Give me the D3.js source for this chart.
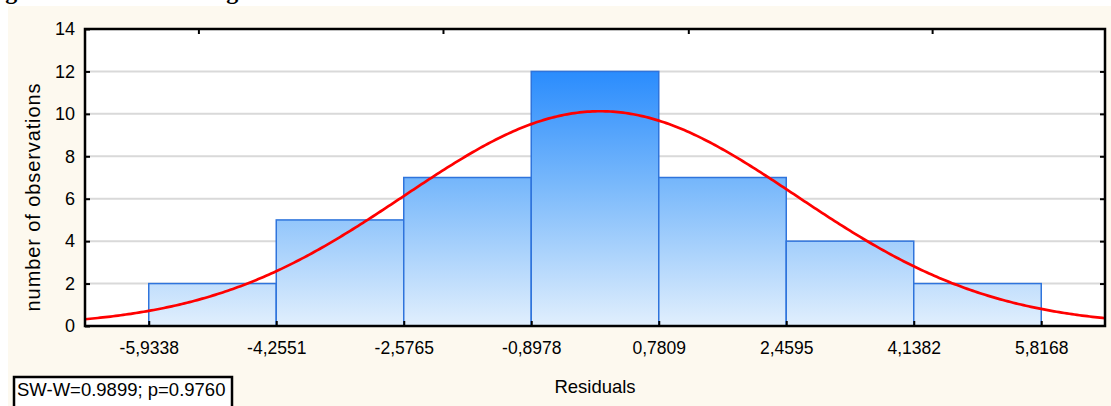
<!DOCTYPE html>
<html>
<head>
<meta charset="utf-8">
<script src="https://cdn.jsdelivr.net/npm/d3@7/dist/d3.min.js"></script>
<style>
  html, body { margin: 0; padding: 0; background: #ffffff; }
  svg { display: block; }
</style>
</head>
<body>
<svg id="chart" width="1111" height="406"></svg>
<script>
// Histogram of residuals with a fitted normal curve
const binEdges = [-5.9338, -4.2551, -2.5765, -0.8978, 0.7809, 2.4595, 4.1382, 5.8168];
const edgeLabels = ["-5,9338", "-4,2551", "-2,5765", "-0,8978", "0,7809", "2,4595", "4,1382", "5,8168"];
const counts = [2, 5, 7, 12, 7, 4, 2];
const yTicks = [0, 2, 4, 6, 8, 10, 12, 14];
const topTicks = [-5.28, -2.06, 1.17, 4.38];
const fitMean = 0.01;
const fitSd = 2.58;
const statsText = "SW-W=0.9899; p=0.9760";
const xTitle = "Residuals";
const yTitle = "number of observations";
const titleText = "Figure 7. Residual histogram";

const W = 1111, H = 406;
const M = { left: 85, right: 1105, top: 29, bottom: 326 };
const svg = d3.select("#chart");
const font = "'Liberation Sans', Arial, sans-serif";

const binW = binEdges[1] - binEdges[0];
const nTotal = d3.sum(counts);

const x = d3.scaleLinear()
  .domain([binEdges[0] - binW / 2, binEdges[binEdges.length - 1] + binW / 2])
  .range([M.left, M.right]);
const y = d3.scaleLinear().domain([0, 14]).range([M.bottom, M.top]);

// page background
svg.append("rect").attr("x", 0).attr("y", 0).attr("width", W).attr("height", H).attr("fill", "#ffffff");

// caption above the panel; only its lowest strokes fall inside the page
svg.append("text")
  .attr("x", -16).attr("y", -1)
  .attr("font-family", "'Liberation Serif', 'Times New Roman', serif")
  .attr("font-weight", "bold").attr("font-size", 24)
  .attr("fill", "#000").text(titleText);

svg.append("rect").attr("x", 8).attr("y", 6).attr("width", W - 8).attr("height", H - 6).attr("fill", "#fdf9ef");

// plot area
svg.append("rect").attr("x", M.left).attr("y", M.top)
  .attr("width", M.right - M.left).attr("height", M.bottom - M.top).attr("fill", "#ffffff");

// horizontal grid
svg.append("g").selectAll("line").data(yTicks.filter(d => d > 0 && d < 14)).join("line")
  .attr("x1", M.left).attr("x2", M.right)
  .attr("y1", d => y(d)).attr("y2", d => y(d))
  .attr("stroke", "#d9d9d9").attr("stroke-width", 2);

// bar gradient, shared over the whole plot height
const defs = svg.append("defs");
const grad = defs.append("linearGradient").attr("id", "barGrad")
  .attr("gradientUnits", "userSpaceOnUse")
  .attr("x1", 0).attr("x2", 0).attr("y1", y(12)).attr("y2", y(0));
grad.append("stop").attr("offset", "0%").attr("stop-color", "#2a8cfd");
grad.append("stop").attr("offset", "45%").attr("stop-color", "#7ab9fb");
grad.append("stop").attr("offset", "100%").attr("stop-color", "#e1effd");

const bins = counts.map((c, i) => ({ x0: binEdges[i], x1: binEdges[i + 1], n: c }));
svg.append("g").selectAll("rect").data(bins).join("rect")
  .attr("x", d => x(d.x0)).attr("width", d => x(d.x1) - x(d.x0))
  .attr("y", d => y(d.n)).attr("height", d => y(0) - y(d.n))
  .attr("fill", "url(#barGrad)")
  .attr("stroke", "#2f74dc").attr("stroke-width", 1.5);

// fitted normal curve scaled to counts
const curveX = d3.range(0, 401).map(i => x.domain()[0] + (x.domain()[1] - x.domain()[0]) * i / 400);
const pdf = v => nTotal * binW * Math.exp(-0.5 * ((v - fitMean) / fitSd) ** 2) / (fitSd * Math.sqrt(2 * Math.PI));
svg.append("path")
  .datum(curveX)
  .attr("d", d3.line().x(v => x(v)).y(v => y(pdf(v))))
  .attr("fill", "none").attr("stroke", "#ff0000").attr("stroke-width", 2.7);

// frame
svg.append("rect").attr("x", M.left).attr("y", M.top)
  .attr("width", M.right - M.left).attr("height", M.bottom - M.top)
  .attr("fill", "none").attr("stroke", "#000").attr("stroke-width", 2.5);

// axes
const xAxis = d3.axisBottom(x).tickValues(binEdges).tickFormat((d, i) => edgeLabels[i])
  .tickSizeInner(-5).tickSizeOuter(0).tickPadding(16);
const gx = svg.append("g").attr("transform", `translate(0,${M.bottom})`).call(xAxis);
gx.select(".domain").remove();
gx.selectAll(".tick line").attr("stroke", "#000").attr("stroke-width", 2);
gx.selectAll("text").attr("font-family", font).attr("font-size", 17.5).attr("fill", "#000")
  .attr("dy", null).attr("y", 28);

const xTop = d3.axisTop(x).tickValues(topTicks).tickFormat("").tickSizeInner(-5).tickSizeOuter(0);
const gxt = svg.append("g").attr("transform", `translate(0,${M.top})`).call(xTop);
gxt.select(".domain").remove();
gxt.selectAll(".tick line").attr("stroke", "#000").attr("stroke-width", 2);

const yAxis = d3.axisLeft(y).tickValues(yTicks).tickFormat(d3.format("d"))
  .tickSizeInner(-5).tickSizeOuter(0).tickPadding(10);
const gy = svg.append("g").attr("transform", `translate(${M.left},0)`).call(yAxis);
gy.select(".domain").remove();
gy.selectAll(".tick line").attr("stroke", "#000").attr("stroke-width", 2);
gy.selectAll("text").attr("font-family", font).attr("font-size", 18).attr("fill", "#000");

const yRight = d3.axisRight(y).tickValues(yTicks.filter(d => d > 0 && d < 14)).tickFormat("")
  .tickSizeInner(-5).tickSizeOuter(0);
const gyr = svg.append("g").attr("transform", `translate(${M.right},0)`).call(yRight);
gyr.select(".domain").remove();
gyr.selectAll(".tick line").attr("stroke", "#000").attr("stroke-width", 2);

// axis titles
svg.append("text").attr("x", 595).attr("y", 393)
  .attr("text-anchor", "middle").attr("font-family", font).attr("font-size", 18.5)
  .attr("fill", "#000").text(xTitle);
svg.append("text").attr("transform", `translate(40,197) rotate(-90)`)
  .attr("text-anchor", "middle").attr("font-family", font).attr("font-size", 20)
  .attr("letter-spacing", 0.9)
  .attr("fill", "#000").text(yTitle);

// normality test box
svg.append("rect").attr("x", 14).attr("y", 377).attr("width", 218).attr("height", 40)
  .attr("fill", "#ffffff").attr("stroke", "#000").attr("stroke-width", 2.5);
svg.append("text").attr("x", 17).attr("y", 396)
  .attr("font-family", font).attr("font-size", 18.5).attr("fill", "#000").text(statsText);
</script>
</body>
</html>
